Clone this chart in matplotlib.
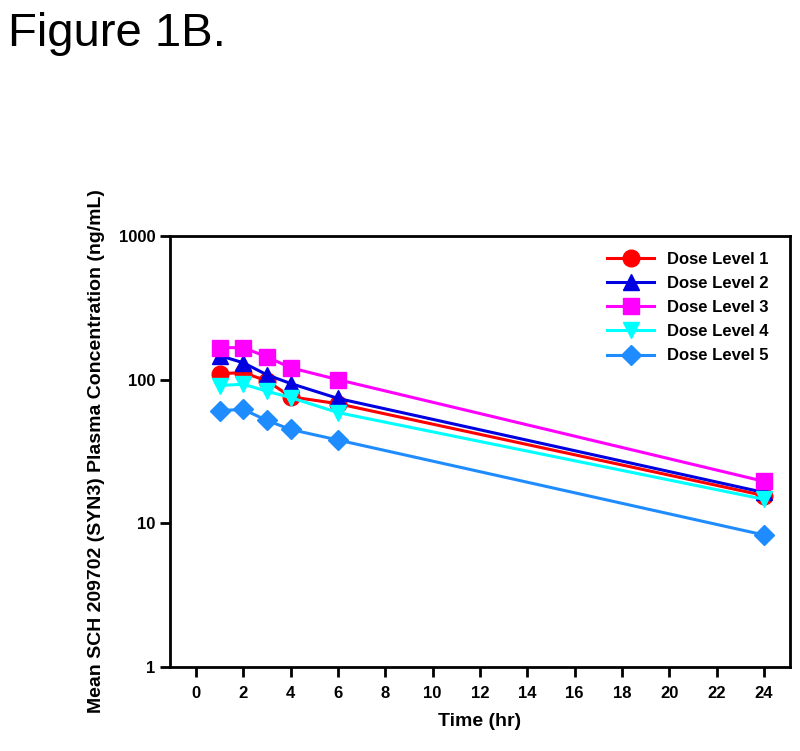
import matplotlib
matplotlib.use("Agg")
import matplotlib.pyplot as plt
from matplotlib.ticker import FixedLocator, NullLocator, FixedFormatter

plt.rcParams['font.family'] = ['Liberation Sans', 'DejaVu Sans']

time_hr = [1, 2, 3, 4, 6, 24]
labels = ["Dose Level 1", "Dose Level 2", "Dose Level 3", "Dose Level 4", "Dose Level 5"]
dose1 = [110, 112, 98, 76, 68, 15.6]
dose2 = [147, 131, 108, 94, 74, 16.4]
dose3 = [167, 167, 144, 121, 100, 19.6]
dose4 = [91, 93, 83, 75, 59, 14.7]
dose5 = [61, 62, 52, 45, 38, 8.3]
series = [dose1, dose2, dose3, dose4, dose5]
colors = ["#ff0000", "#0000e0", "#ff00ff", "#00ffff", "#1e8cff"]
markers = ["o", "^", "s", "v", "D"]
msizes = [12, 12, 11, 12, 10]
xticks = list(range(0, 25, 2))
yticks = [1, 10, 100, 1000]

fig = plt.figure(figsize=(8, 7.51), dpi=100)
ax = fig.add_axes([0.2125, 0.1118, 0.775, 0.574])

for vals, c, m, ms, lab in zip(series, colors, markers, msizes, labels):
    ax.plot(time_hr, vals, color=c, marker=m, markersize=ms, lw=2.2, label=lab)

ax.set_yscale('log')
ax.set_ylim(1, 1000)
ax.set_xlim(-1.1, 25.1)
ax.yaxis.set_major_locator(FixedLocator(yticks))
ax.yaxis.set_major_formatter(FixedFormatter([str(v) for v in yticks]))
ax.yaxis.set_minor_locator(NullLocator())
ax.set_xticks(xticks)
ax.set_xticklabels([str(v) for v in xticks])

for s in ax.spines.values():
    s.set_linewidth(2)
ax.tick_params(axis='both', direction='out', width=2, length=7, labelsize=12)
ax.tick_params(axis='x', pad=7)
for t in ax.get_xticklabels() + ax.get_yticklabels():
    t.set_fontweight('bold')

ax.set_xlabel("Time (hr)", fontsize=14, fontweight='bold', labelpad=8)
ax.set_ylabel("Mean SCH 209702 (SYN3) Plasma Concentration (ng/mL)", fontsize=14,
              fontweight='bold', labelpad=10)

leg = ax.legend(loc='upper right', frameon=False, prop={'weight': 'bold', 'size': 12},
                handlelength=2.8, labelspacing=0.55, bbox_to_anchor=(0.99, 0.998))

fig.text(0.01, 0.955, "Figure 1B.", fontsize=34, va='center', ha='left')

fig.savefig("out.png", dpi=100)
